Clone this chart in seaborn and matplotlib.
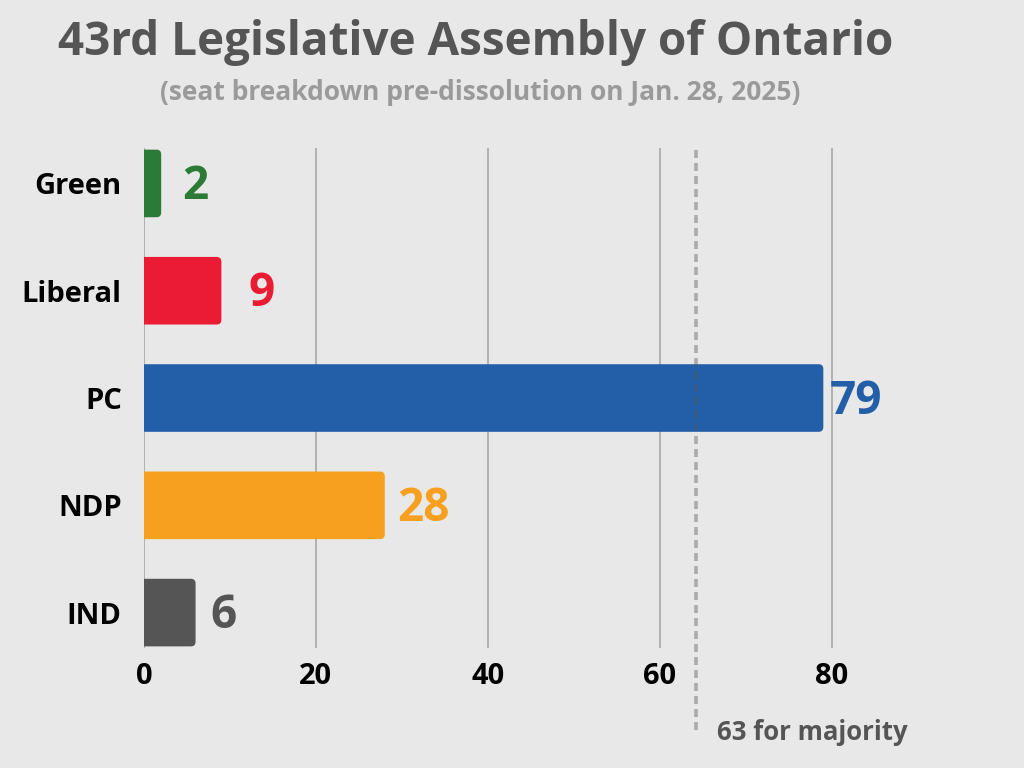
import matplotlib
matplotlib.use("Agg")
import matplotlib.pyplot as plt
import seaborn as sns
import pandas as pd
from matplotlib.patches import FancyBboxPatch

parties = ["Green", "Liberal", "PC", "NDP", "IND"]
seats = [2, 9, 79, 28, 6]
colors = ["#2b7a35", "#ec1b34", "#235ea8", "#f7a01f", "#555555"]
label_offsets = [2.5, 3.2, 0.8, 1.4, 1.7]
ticks = [0, 20, 40, 60, 80]
majority_text = "63 for majority"
majority_pos = 64.2

BG = "#e8e8e8"
sns.set_theme(style="white")
plt.rcParams["font.family"] = ["Open Sans", "DejaVu Sans"]

df = pd.DataFrame({"party": parties, "seats": seats})

fig = plt.figure(figsize=(10.24, 7.68), dpi=100, facecolor=BG)
ax = fig.add_axes([0.1406, 0.15625, 0.739, 0.651])
ax.set_facecolor(BG)

sns.barplot(data=df, x="seats", y="party", hue="party", palette=colors,
            orient="h", width=0.63, saturation=1, legend=False, ax=ax, zorder=3)

ax.set_xlim(0, 88)
ax.set_ylim(4.33, -0.33)

# rounded bars
for p in list(ax.patches):
    x0, y0 = p.get_x(), p.get_y()
    w, h = p.get_width(), p.get_height()
    fc = p.get_facecolor()
    p.set_visible(False)
    fb = FancyBboxPatch((x0 - 2, y0), w + 2, h,
                        boxstyle="round,pad=0,rounding_size=0.55",
                        mutation_aspect=0.08, facecolor=fc, edgecolor="none",
                        zorder=3, clip_on=True)
    ax.add_patch(fb)

for i, (v, c, off) in enumerate(zip(seats, colors, label_offsets)):
    ax.text(v + off, i + 0.03, str(v), color=c, fontsize=33, fontweight="bold",
            va="center", ha="left", zorder=5)

for t in ticks:
    ax.axvline(t, color="#b0b0b0", lw=1.4, zorder=1)

ax.axvline(majority_pos, ymin=-0.165, ymax=1, color="#555555", alpha=0.42, lw=2.6,
           linestyle=(0, (2.2, 1.4)), clip_on=False, zorder=4)
ax.text(majority_pos + 2.4, 5.12, majority_text, color="#555555", fontsize=18.5,
        fontweight="bold", va="center", ha="left", clip_on=False)

for s in ax.spines.values():
    s.set_visible(False)

ax.set_xticks(ticks)
ax.set_xticklabels([str(t) for t in ticks], fontsize=21, fontweight="bold", color="black")
ax.tick_params(axis="x", length=0, pad=10)
ax.tick_params(axis="y", length=0, pad=16)
for lab in ax.get_yticklabels():
    lab.set_fontsize(21)
    lab.set_fontweight("bold")
    lab.set_color("black")
ax.set_xlabel("")
ax.set_ylabel("")

fig.text(0.464, 0.945, "43rd Legislative Assembly of Ontario",
         fontweight="bold", fontsize=33, color="#555555", ha="center", va="center")
fig.text(0.469, 0.879, "(seat breakdown pre-dissolution on Jan. 28, 2025)",
         fontweight="bold", fontsize=19, color="#9a9a9a", ha="center", va="center")

fig.savefig("out.png", dpi=100, facecolor=BG)
